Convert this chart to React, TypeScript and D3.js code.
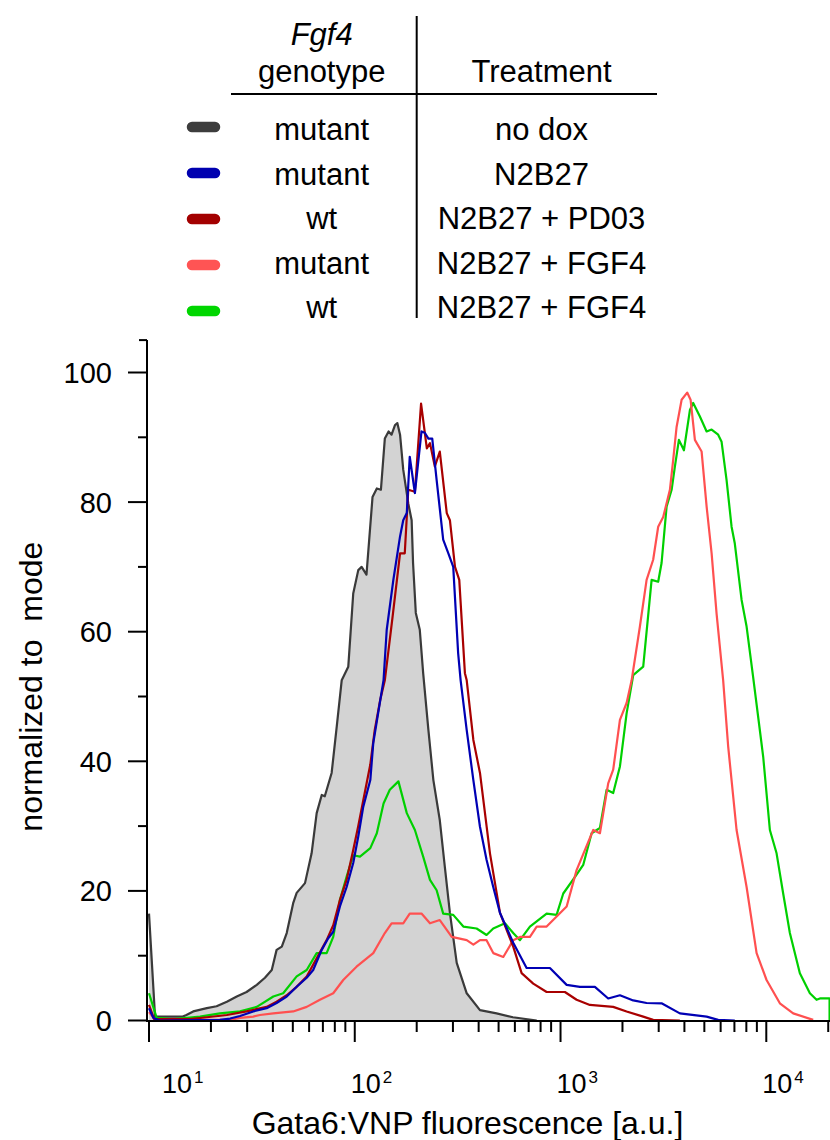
import React from "react";
import * as d3 from "d3";

type Pt = [number, number];

// Fgf4 mutant, no dox (filled grey)
const mutantNoDox: Pt[] = [[10,16.5],[10.7,0.6],[14.6,0.6],[15.2,0.85],[16.4,1.4],[19.1,1.9],[21.3,2.2],[23.9,2.9],[26.7,3.7],[29.8,4.4],[33.4,5.5],[36.6,6.6],[39.5,7.8],[41.7,10.9],[44.2,11.4],[46.7,13.5],[50.2,18.1],[52.2,19.7],[57.3,21.2],[61.7,25.8],[65.3,32.0],[69.1,34.8],[71.5,34.6],[77.2,38.2],[81.7,45.3],[86.4,52.5],[93.0,54.6],[98.3,65.9],[104,69.5],[108,70.0],[114,68.8],[122,80.8],[128,82.1],[134,81.9],[140,89.8],[146,90.9],[151,90.4],[157,91.9],[161,92.2],[166,90.4],[172,85.0],[182,79.8],[189,77.2],[192,70.6],[198,62.9],[207,60.3],[215,53.6],[228,44.8],[241,37.1],[259,30.9],[274,23.7],[290,16.6],[313,8.9],[350,4.2],[406,1.6],[489,1.1],[587,0.5],[766,0]];

// Fgf4 mutant, N2B27
const mutantN2B27: Pt[] = [[10,1.9],[10.5,0.4],[11.3,0],[22.1,0.1],[24.8,0.3],[27.7,0.7],[32.1,1.4],[37.3,1.9],[41.7,2.7],[46.7,3.7],[52.2,5.2],[58.4,6.6],[62.8,7.8],[69.1,10.9],[74.3,12.7],[78.6,13.7],[84.7,17.6],[91.3,20.6],[98.3,24.3],[104,28.4],[110,33.0],[119,37.1],[123,42.8],[130,47.5],[138,52.5],[143,60.3],[154,68.0],[166,74.7],[172,77.2],[179,78.3],[185,87.0],[196,81.4],[211,90.9],[219,90.7],[228,89.8],[238,89.8],[250,83.4],[269,74.2],[285,72.1],[301,70.0],[318,56.7],[327,52.5],[350,44.8],[377,37.1],[406,29.9],[437,24.8],[471,20.6],[508,16.6],[589,12.0],[684,8.1],[888,8.1],[1071,5.5],[1242,5.2],[1469,5.2],[1705,3.4],[1944,3.9],[2256,3.1],[2620,2.7],[3098,2.65],[3802,1.1],[5129,0.6],[5835,0.1],[7031,0]];

// Fgf4 wt, N2B27 + PD03
const wtPD03: Pt[] = [[10,2.4],[10.6,0.2],[15.8,0.2],[19.1,0.5],[23.9,0.85],[29.8,1.4],[37.3,2.1],[41.7,2.9],[46.7,3.9],[52.2,5.2],[58.4,6.8],[65.3,9.6],[73.0,12.4],[78.6,14.7],[84.7,18.6],[91.3,21.7],[98.3,26.3],[104,30.0],[110,34.0],[119,39.5],[125,44.8],[133,49.5],[140,52.5],[152,61.8],[166,72.1],[175,72.1],[182,81.9],[196,81.6],[210,95.2],[224,88.3],[232,89.1],[245,85.5],[259,87.8],[280,78.3],[290,77.2],[307,70.0],[322,68.0],[343,53.6],[350,52.5],[377,43.3],[406,38.2],[454,25.8],[508,16.6],[589,11.4],[647,7.3],[737,5.7],[856,4.4],[1050,4.4],[1197,3.2],[1389,2.4],[1803,2.1],[2095,1.4],[2523,0.6],[2820,0.1],[3802,0]];

// Fgf4 mutant, N2B27 + FGF4
const mutantFGF4: Pt[] = [[10,1.3],[10.7,0.1],[24.8,0.1],[27.7,0.4],[32.1,0.6],[34.6,0.85],[40.2,1.1],[50.2,1.4],[58.4,2.1],[67.7,3.2],[78.6,4.2],[87.9,6.25],[102,8.3],[123,10.4],[140,13.5],[151,15.0],[172,15.0],[185,16.5],[211,16.5],[232,15.0],[259,15.5],[296,12.9],[350,12.4],[377,11.7],[406,12.4],[437,12.4],[471,10.4],[527,9.8],[589,12.4],[635,12.9],[710,12.9],[766,14.5],[856,14.5],[1071,17.6],[1197,23.2],[1442,29.4],[1554,28.9],[1705,36.6],[1803,38.7],[1944,46.4],[2095,49.0],[2216,52.5],[2431,60.8],[2620,68.0],[2820,71.1],[2983,76.2],[3155,77.7],[3401,81.9],[3528,86.5],[3665,91.6],[3877,95.8],[4126,96.9],[4286,95.8],[4498,89.6],[4849,87.8],[5129,79.3],[5424,72.1],[5733,62.8],[6172,52.5],[6527,42.3],[7171,29.4],[8022,20.6],[8973,10.4],[10030,6.25],[11640,2.65],[13510,1.1],[16900,0.1]];

// Fgf4 wt, N2B27 + FGF4
const wtFGF4: Pt[] = [[10,4.2],[10.9,0.4],[13.1,0.2],[17.7,0.6],[22.1,1.1],[27.7,1.4],[33.4,2.1],[40.2,3.7],[44.9,4.2],[52.2,6.8],[58.4,7.8],[65.3,10.4],[73.0,10.4],[78.6,12.9],[84.7,18.6],[91.3,22.2],[98.3,25.5],[106,25.3],[119,26.6],[128,28.9],[138,33.5],[148,35.6],[163,36.9],[179,32.0],[196,29.4],[215,25.3],[232,21.7],[250,20.1],[269,16.5],[301,16.3],[337,14.5],[391,14.2],[437,13.2],[471,14.2],[537,15.0],[589,13.5],[635,12.4],[710,14.5],[856,16.5],[957,16.3],[1031,19.6],[1197,22.5],[1289,24.0],[1416,28.9],[1554,29.7],[1675,35.6],[1803,35.1],[1944,39.2],[2095,47.4],[2256,53.3],[2523,54.6],[2771,68.0],[2983,67.7],[3098,70.6],[3277,79.3],[3467,81.9],[3597,85.5],[3761,89.6],[3978,88.0],[4254,94.2],[4414,95.3],[4757,93.2],[5129,90.9],[5424,91.2],[5835,90.4],[6064,89.3],[6412,83.4],[6781,76.2],[7031,73.6],[7586,64.9],[8022,60.8],[8638,52.9],[9660,40.7],[10410,29.4],[11220,25.8],[12080,19.6],[13020,13.5],[14560,7.3],[16290,4.2],[17550,3.2],[18220,3.4],[20300,3.4],[20300,0]];

// legend table
const genotypes = ["mutant", "mutant", "wt", "mutant", "wt"];
const treatments = ["no dox", "N2B27", "N2B27 + PD03", "N2B27 + FGF4", "N2B27 + FGF4"];
const legendColors = ["#3d3d3d", "#0000b0", "#a30000", "#ff5454", "#00d600"];

// axes
const yMajorTicks = [0, 20, 40, 60, 80, 100];
const yMinorTicks = [10, 30, 50, 70, 90];
const xMajorTicks = [10, 100, 1000, 10000];
const xExponents = ["1", "2", "3", "4"];

const FONT = "'Liberation Sans', Arial, Helvetica, sans-serif";

export default function App() {
  const x = d3.scaleLog().domain([10, 20400]).range([149, 830]);
  const y = d3.scaleLinear().domain([0, 105]).range([1020.5, 340.1]);
  const line = d3.line<Pt>().x(d => x(d[0])).y(d => y(d[1]));
  const area = d3.area<Pt>().x(d => x(d[0])).y0(y(0)).y1(d => y(d[1]));

  const xMinor: number[] = [];
  xMajorTicks.forEach(dec => {
    for (let k = 2; k <= 9; k++) {
      const v = dec * k;
      if (v <= 20400) xMinor.push(v);
    }
  });

  const axisX = 147;
  const axisY = 1021;

  const series: { data: Pt[]; color: string }[] = [
    { data: wtFGF4, color: "#00d000" },
    { data: mutantFGF4, color: "#ff5050" },
    { data: wtPD03, color: "#a80000" },
    { data: mutantN2B27, color: "#0000b4" },
  ];

  return (
    <svg width={830} height={1140} style={{ position: "absolute", left: 0, top: 0, display: "block" }} fontFamily={FONT}>
      <rect width={830} height={1140} fill="#fff" />
      {/* legend table */}
      <g fill="#000">
        <text x={321.7} y={45} fontSize={31} fontStyle="italic" textAnchor="middle">Fgf4</text>
        <text x={321.7} y={81.7} fontSize={31} textAnchor="middle">genotype</text>
        <text x={541.5} y={81.7} fontSize={31} textAnchor="middle">Treatment</text>
        <line x1={231} x2={657} y1={94} y2={94} stroke="#000" strokeWidth={2} />
        <line x1={416.7} x2={416.7} y1={16} y2={318} stroke="#000" strokeWidth={2} />
        {genotypes.map((g, i) => (
          <g key={i}>
            <line x1={192} x2={215} y1={127 + 46 * i} y2={127 + 46 * i} stroke={legendColors[i]} strokeWidth={10.5} strokeLinecap="round" />
            <text x={321.7} y={140 + 44.6 * i} fontSize={31} textAnchor="middle">{g}</text>
            <text x={541.5} y={140 + 44.6 * i} fontSize={31} textAnchor="middle">{treatments[i]}</text>
          </g>
        ))}
      </g>

      {/* data */}
      <defs>
        <clipPath id="plotclip">
          <rect x={axisX} y={330} width={830 - axisX} height={axisY - 330} />
        </clipPath>
      </defs>
      <g clipPath="url(#plotclip)">
        <path d={area(mutantNoDox) || ""} fill="#d3d3d3" stroke="none" />
        <path d={line(mutantNoDox) || ""} fill="none" stroke="#3a3a3a" strokeWidth={2.2} strokeLinejoin="round" />
        {series.map((s, i) => (
          <path key={i} d={line(s.data) || ""} fill="none" stroke={s.color} strokeWidth={2.2} strokeLinejoin="round" />
        ))}
      </g>

      {/* y axis */}
      <g stroke="#000" strokeWidth={2}>
        <line x1={axisX} x2={axisX} y1={y(105)} y2={axisY + 1} />
        <line x1={axisX - 8} x2={axisX} y1={y(105)} y2={y(105)} />
        {yMajorTicks.map(t => (
          <line key={t} x1={axisX - 19} x2={axisX} y1={y(t)} y2={y(t)} />
        ))}
        {yMinorTicks.map(t => (
          <line key={t} x1={axisX - 9} x2={axisX} y1={y(t)} y2={y(t)} />
        ))}
      </g>
      {yMajorTicks.map(t => (
        <text key={t} x={112} y={y(t)} dy="0.36em" fontSize={29} textAnchor="end" fill="#000">{t}</text>
      ))}
      <text transform="translate(41.7,686.7) rotate(-90)" fontSize={32} textAnchor="middle" fill="#000" style={{ whiteSpace: "pre" }}>{"normalized to  mode"}</text>

      {/* x axis */}
      <g stroke="#000" strokeWidth={2}>
        <line x1={axisX - 1} x2={830} y1={axisY} y2={axisY} />
        {xMajorTicks.map(t => (
          <line key={t} x1={x(t)} x2={x(t)} y1={axisY} y2={axisY + 21} />
        ))}
        {xMinor.map(t => (
          <line key={t} x1={x(t)} x2={x(t)} y1={axisY} y2={axisY + 11} />
        ))}
      </g>
      {xMajorTicks.map((t, i) => (
        <text key={t} x={x(t) + (i === 0 ? 13 : -4)} y={1093} fontSize={27} fill="#000">
          <tspan>10</tspan>
          <tspan dx={2} y={1083} fontSize={17}>{xExponents[i]}</tspan>
        </text>
      ))}
      <text x={467.5} y={1134} fontSize={32} textAnchor="middle" fill="#000">Gata6:VNP fluorescence [a.u.]</text>
    </svg>
  );
}
